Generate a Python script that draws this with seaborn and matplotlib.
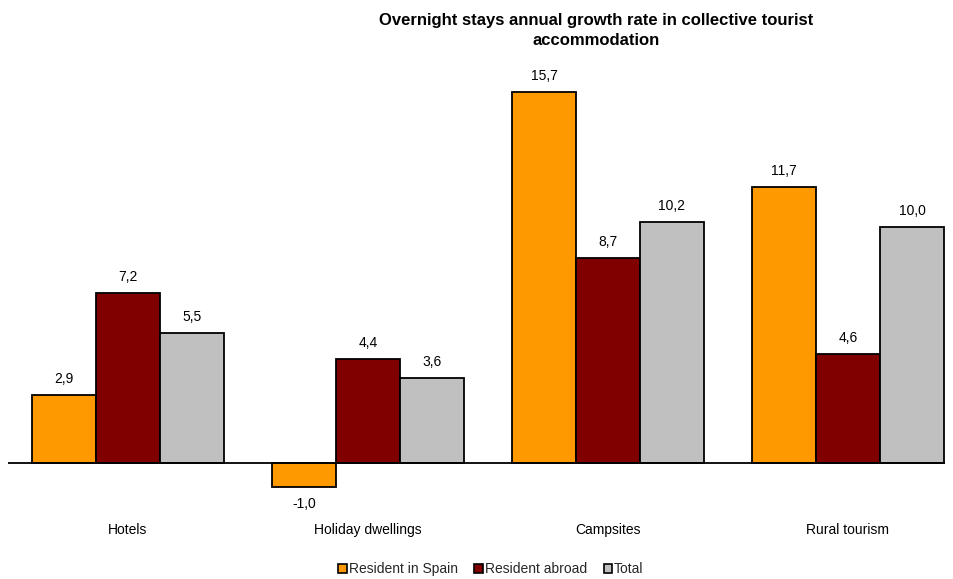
import matplotlib
matplotlib.use("Agg")
import matplotlib.pyplot as plt
import seaborn as sns
import pandas as pd
from matplotlib.patches import Patch

categories = ["Hotels", "Holiday dwellings", "Campsites", "Rural tourism"]
series = ["Resident in Spain", "Resident abroad", "Total"]
resident_spain = [2.9, -1.0, 15.7, 11.7]
resident_abroad = [7.2, 4.4, 8.7, 4.6]
total = [5.5, 3.6, 10.2, 10.0]
colors = ["#FF9900", "#800000", "#C0C0C0"]
title = "Overnight stays annual growth rate in collective tourist\naccommodation"

rows = []
for s, vals in zip(series, [resident_spain, resident_abroad, total]):
    for c, v in zip(categories, vals):
        rows.append({"category": c, "series": s, "value": v})
df = pd.DataFrame(rows)

sns.set_theme(style="white")
plt.rcParams["font.family"] = ["Liberation Sans", "DejaVu Sans"]

fig = plt.figure(figsize=(9.54, 5.79), dpi=100)
W, H = 954, 579
left, right, top, bottom = 8, 945, 60, 515
ax = fig.add_axes([left / W, 1 - bottom / H, (right - left) / W, (bottom - top) / H])

sns.barplot(data=df, x="category", y="value", hue="series", order=categories,
            hue_order=series, palette=colors, width=0.8, edgecolor="black",
            linewidth=1.3, saturation=1, legend=False, ax=ax, errorbar=None)

ppu = 23.6
ax.set_ylim(-(bottom - 463) / ppu, (463 - top) / ppu)
ax.set_xlim(-0.5, (right - 128) / 240 - 0)
ax.axhline(0, color="black", linewidth=1.3, zorder=5)
for sp in ax.spines.values():
    sp.set_visible(False)
ax.set_yticks([])
ax.set_xlabel("")
ax.set_ylabel("")
ax.tick_params(axis="x", length=0, pad=6, labelsize=10, labelcolor="black")

for cont in ax.containers:
    for bar in cont:
        v = bar.get_height()
        x = bar.get_x() + bar.get_width() / 2
        label = f"{v:.1f}".replace(".", ",")
        if v >= 0:
            ax.annotate(label, (x, v), xytext=(0, 6.5), textcoords="offset points",
                        ha="center", va="bottom", fontsize=10, color="black")
        else:
            ax.annotate(label, (x, v), xytext=(0, -7.5), textcoords="offset points",
                        ha="center", va="top", fontsize=10, color="black")

fig.text(596 / W, 1 - 13 / H, title, ha="center", va="top", fontsize=12,
         fontweight="bold", color="black", linespacing=1.45)

handles = [Patch(facecolor=c, edgecolor="black", linewidth=1.2, label=s)
           for c, s in zip(colors, series)]
fig.legend(handles=handles, loc="center", bbox_to_anchor=(491 / W, 1 - 569 / H),
           ncol=3, frameon=False, fontsize=10, handlelength=0.6, handleheight=0.6,
           handletextpad=0.15, columnspacing=1.2, borderpad=0)

fig.savefig("out.png", dpi=100)
